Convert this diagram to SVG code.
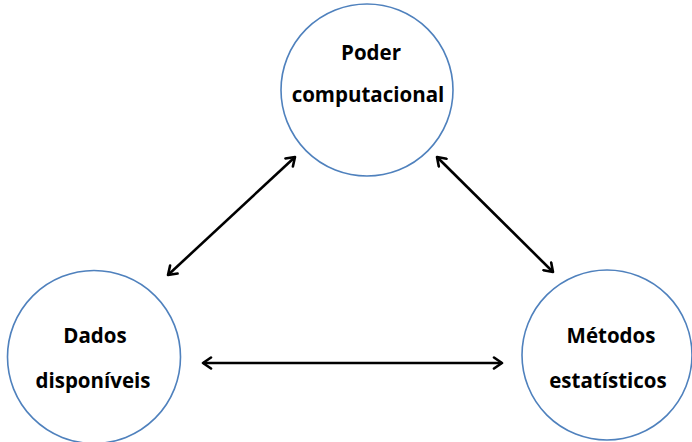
<svg xmlns="http://www.w3.org/2000/svg" width="692" height="442" viewBox="0 0 692 442">
<style>
.node circle{fill:#fff;stroke:#4f81bd;stroke-width:1.6}
.node text{font-family:"Open Sans","Liberation Sans",sans-serif;font-weight:bold;font-size:20.5px;fill:#000;text-anchor:middle}
.conn line{stroke:#000;stroke-width:2.6;marker-start:url(#ah);marker-end:url(#ah)}
</style>
<defs>
<marker id="ah" viewBox="0 0 14 14" refX="12" refY="7" markerWidth="14" markerHeight="14" markerUnits="userSpaceOnUse" orient="auto-start-reverse">
<path d="M4,1.5 L12,7 L4,12.5" fill="none" stroke="#000" stroke-width="2.6" stroke-linecap="round" stroke-linejoin="round"/>
</marker>
</defs>
<g id="poder" class="node">
<circle cx="367" cy="90" r="86"/>
<text x="371" y="60">Poder</text>
<text x="368" y="102">computacional</text>
</g>
<g id="dados" class="node">
<circle cx="94" cy="357" r="86.5"/>
<text x="95" y="343">Dados</text>
<text x="93" y="388">disponíveis</text>
</g>
<g id="metodos" class="node">
<circle cx="607" cy="355" r="85"/>
<text x="611" y="343">Métodos</text>
<text x="608" y="388">estatísticos</text>
</g>
<g id="connectors" class="conn">
<line x1="168" y1="275" x2="295" y2="157"/>
<line x1="437" y1="157" x2="553" y2="272"/>
<line x1="203" y1="363" x2="502" y2="363"/>
</g>
</svg>
